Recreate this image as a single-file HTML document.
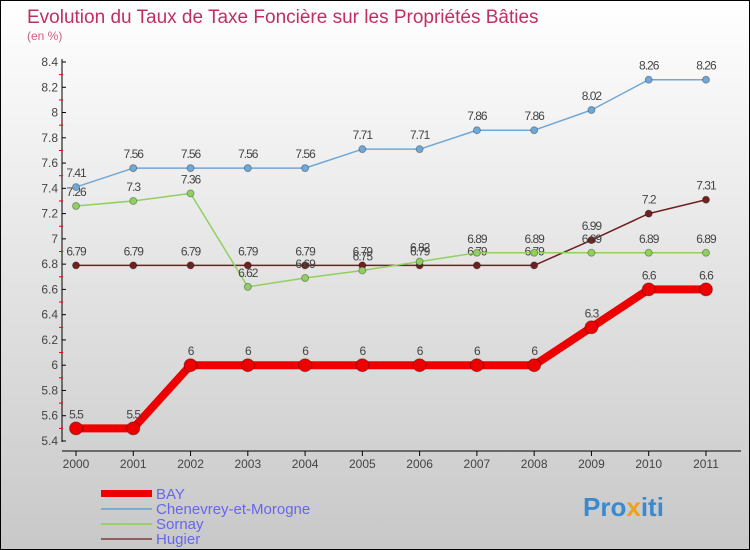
<!DOCTYPE html>
<html><head><meta charset="utf-8"><style>
body{margin:0}
#c{width:750px;height:550px;position:relative;box-sizing:border-box;border:1px solid #000;background:linear-gradient(#fff,#c8c8c8);font-family:"Liberation Sans",sans-serif;overflow:hidden}
</style></head><body>
<div id="c">
<svg id="s" width="748" height="548" style="position:absolute;left:0;top:0">
<text x="26" y="22" font-size="19" fill="#c0305f">Evolution du Taux de Taxe Foncière sur les Propriétés Bâties</text>
<text x="26" y="39" font-size="12" fill="#d06080">(en %)</text>
<g id="axes"></g><g id="series"></g>
<g>
<rect x="100" y="489" width="51" height="7" fill="#e00"/>
<rect x="100" y="507" width="51" height="2" fill="#7aaed0"/>
<rect x="100" y="522" width="51" height="2" fill="#98d070"/>
<rect x="100" y="537" width="51" height="2" fill="#906060"/>
<g font-size="15" fill="#6666ee">
<text x="155" y="498">BAY</text>
<text x="155" y="513">Chenevrey-et-Morogne</text>
<text x="155" y="528">Sornay</text>
<text x="155" y="543">Hugier</text>
</g></g>
<text x="582" y="515" font-size="26" font-weight="bold" fill="#3a8ad0">Pro<tspan fill="#f0a020">x</tspan>iti</text>
</svg></div>
<script>
const years=[2000,2001,2002,2003,2004,2005,2006,2007,2008,2009,2010,2011];
const bay=[5.5,5.5,6,6,6,6,6,6,6,6.3,6.6,6.6];
const chenevrey=[7.41,7.56,7.56,7.56,7.56,7.71,7.71,7.86,7.86,8.02,8.26,8.26];
const sornay=[7.26,7.3,7.36,6.62,6.69,6.75,6.82,6.89,6.89,6.89,6.89,6.89];
const hugier=[6.79,6.79,6.79,6.79,6.79,6.79,6.79,6.79,6.79,6.99,7.2,7.31];
const yTicks=[5.4,5.6,5.8,6,6.2,6.4,6.6,6.8,7,7.2,7.4,7.6,7.8,8,8.2,8.4];
const NS="http://www.w3.org/2000/svg";
const xs=i=>75+i*57.27, ys=v=>440-(v-5.4)*126.33;
function mk(t,a,p){const e=document.createElementNS(NS,t);for(const k in a)e.setAttribute(k,a[k]);p.appendChild(e);return e;}
const ax=document.getElementById('axes');
let yl=mk('line',{x1:61,y1:58,x2:61,y2:441,stroke:'#000'},ax);


let xl=mk('line',{x1:61,y1:450,x2:740,y2:450,stroke:'#000'},ax);


yTicks.forEach((v,i)=>{
  mk('line',{x1:61,y1:ys(v),x2:65,y2:ys(v),stroke:'#000'},ax);
  if(i<yTicks.length-1)mk('line',{x1:58,y1:ys(v+0.1),x2:62,y2:ys(v+0.1),stroke:'#e00'},ax);
  const t=mk('text',{x:57,y:ys(v)+4,'font-size':12,fill:'#444','text-anchor':'end'},ax);
  t.textContent=String(v);
  
  
});
years.forEach((y,i)=>{
  mk('line',{x1:xs(i),y1:450,x2:xs(i),y2:455,stroke:'#000'},ax);
  const t=mk('text',{x:xs(i),y:467,'font-size':12,fill:'#444','text-anchor':'middle'},ax);
  t.textContent=y;
  
  
});
const sg=document.getElementById('series');
function draw(data,color,w,r,name){
  const g=mk('g',{},sg);
  
  
  mk('polyline',{points:data.map((v,i)=>xs(i)+','+ys(v)).join(' '),fill:'none',stroke:color,'stroke-width':w,'stroke-linejoin':'round'},g);
  data.forEach((v,i)=>{
    const c=mk('circle',{cx:xs(i),cy:ys(v),r:r,fill:color,stroke:'rgba(0,0,0,0.3)','stroke-width':1},g);
    
    
    const t=mk('text',{x:xs(i),y:ys(v)-10,'font-size':12,fill:'#444','text-anchor':'middle','letter-spacing':'-1'},g);
    t.textContent=String(v);
    
    
  });
}
draw(hugier,'#702020',1.5,3.5,'hugier');
draw(sornay,'#90d060',1.5,3.5,'sornay');
draw(chenevrey,'#70a8d8',1.5,3.5,'chenevrey');
draw(bay,'#ee0000',8,6.5,'bay');
</script>
</body></html>
